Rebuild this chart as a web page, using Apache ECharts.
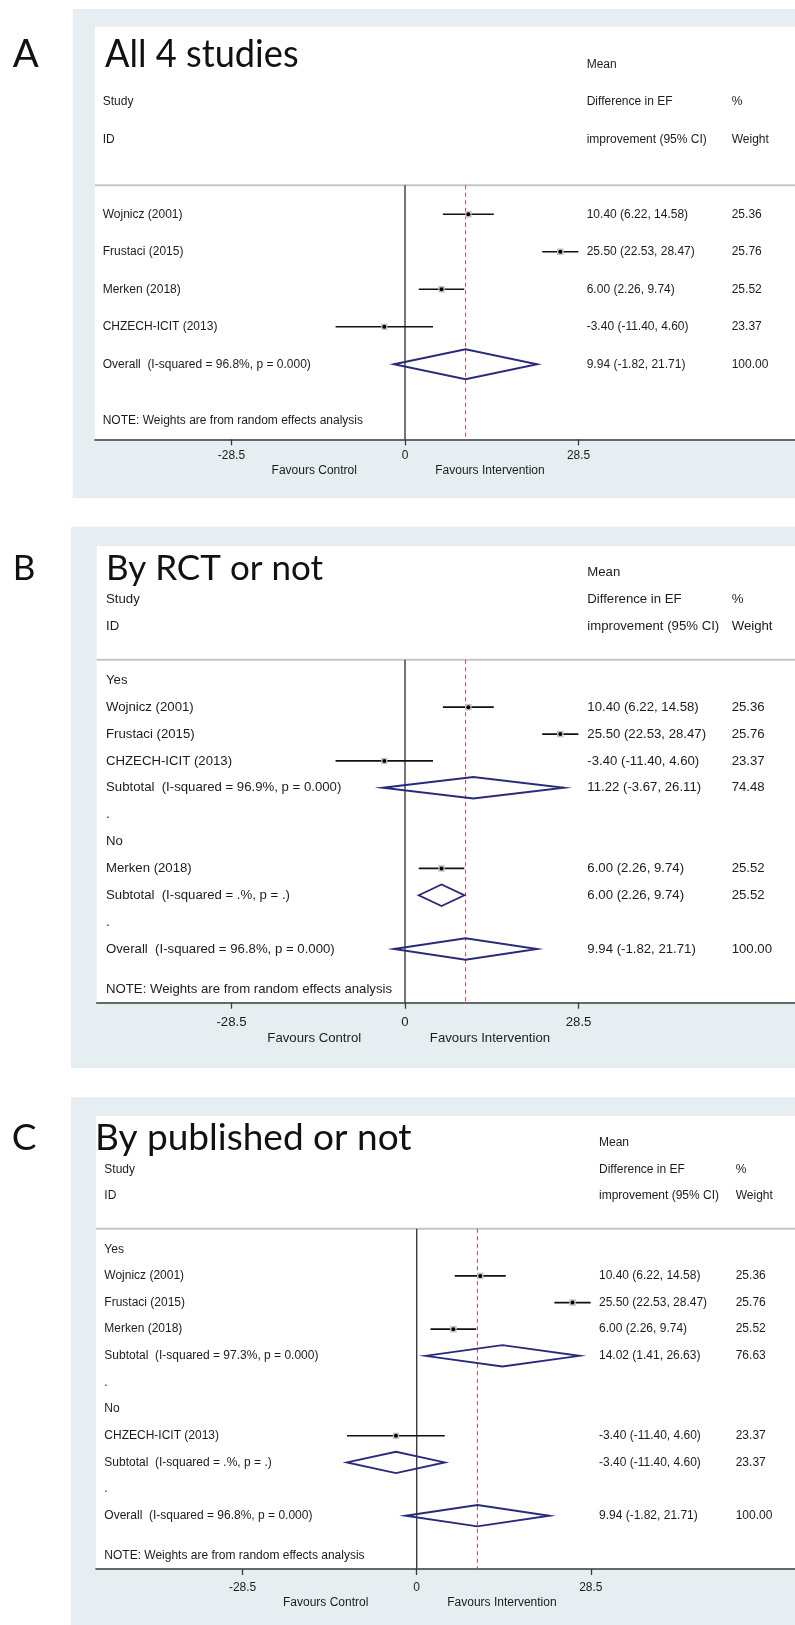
<!DOCTYPE html>
<html>
<head>
<meta charset="utf-8">
<script src="https://cdn.jsdelivr.net/npm/echarts@6/dist/echarts.min.js"></script>
<style>
html,body{margin:0;padding:0;background:#ffffff;}
#chart{width:795px;height:1625px;}
</style>
</head>
<body>
<div id="chart"></div>
<script>
// ---------------- DATA ----------------
const xTicks = [-28.5, 0, 28.5];
const xTickLabels = ['-28.5', '0', '28.5'];
const favoursAt = [-14.9, 13.95];
const favoursLabels = ['Favours Control', 'Favours Intervention'];

const headerLeft = ['Study', 'ID'];
const headerMid = ['Mean', 'Difference in EF', 'improvement (95% CI)'];
const headerRight = ['%', 'Weight'];
const noteText = 'NOTE: Weights are from random effects analysis';

const studyNames = ['Wojnicz (2001)', 'Frustaci (2015)', 'Merken (2018)', 'CHZECH-ICIT (2013)'];
const studyES = [10.40, 25.50, 6.00, -3.40];
const studyLo = [6.22, 22.53, 2.26, -11.40];
const studyHi = [14.58, 28.47, 9.74, 4.60];
const studyWt = [25.36, 25.76, 25.52, 23.37];

const overallES = 9.94, overallLo = -1.82, overallHi = 21.71, overallWt = 100.00;
const overallI2 = '96.8%', overallP = '0.000';

const groupNames = ['Yes', 'No'];

const rctGroups = [[0, 1, 3], [2]];
const rctSubES = [11.22, 6.00];
const rctSubLo = [-3.67, 2.26];
const rctSubHi = [26.11, 9.74];
const rctSubWt = [74.48, 25.52];
const rctSubI2 = ['96.9%', '.%'];
const rctSubP = ['0.000', '.'];

const pubGroups = [[0, 1, 2], [3]];
const pubSubES = [14.02, -3.40];
const pubSubLo = [1.41, -11.40];
const pubSubHi = [26.63, 4.60];
const pubSubWt = [76.63, 23.37];
const pubSubI2 = ['97.3%', '.%'];
const pubSubP = ['0.000', '.'];

const panelLetters = ['A', 'B', 'C'];
const panelTitles = ['All 4 studies', 'By RCT or not', 'By published or not'];

// ---------------- ROW BUILDERS ----------------
function studyRow(i) {
  return { kind: 'study', label: studyNames[i], es: studyES[i], lo: studyLo[i], hi: studyHi[i], wt: studyWt[i] };
}
function overallRow() {
  return { kind: 'diamond', label: 'Overall  (I-squared = ' + overallI2 + ', p = ' + overallP + ')',
    es: overallES, lo: overallLo, hi: overallHi, wt: overallWt };
}
function buildAll() {
  const rows = [0, 1, 2, 3].map(studyRow);
  rows.push(overallRow());
  rows.forEach((r, i) => r.row = i);
  return rows;
}
function buildGrouped(groups, es, lo, hi, wt, i2, p) {
  const rows = [];
  groups.forEach((g, gi) => {
    rows.push({ kind: 'text', label: groupNames[gi] });
    g.forEach(i => rows.push(studyRow(i)));
    rows.push({ kind: 'diamond', label: 'Subtotal  (I-squared = ' + i2[gi] + ', p = ' + p[gi] + ')',
      es: es[gi], lo: lo[gi], hi: hi[gi], wt: wt[gi] });
    rows.push({ kind: 'text', label: '.' });
  });
  rows.push(overallRow());
  rows.forEach((r, i) => r.row = i);
  return rows;
}

// ---------------- LAYOUT ----------------
const W = 795;
const panels = [
  { rows: buildAll(), bg: [72.7, 9, 498], left: 95, top: 26.7, axisY: 439.3, zeroX: 405, ppu: 6.09,
    yMax: 6, noteRow: 5.5, font: 12, titleSize: 38.5, titleScale: 0.94, letterX: 12.7, titleX: 105, titleY: 54.5,
    labelX: 102.7, esX: 586.7, wtX: 731.7, tickMargin: 10.5, favPad: 14.5 },
  { rows: buildGrouped(rctGroups, rctSubES, rctSubLo, rctSubHi, rctSubWt, rctSubI2, rctSubP),
    bg: [71, 526.7, 1068.3], left: 96.7, top: 546, axisY: 1002.7, zeroX: 405, ppu: 6.09,
    yMax: 12, noteRow: 11.5, font: 13.2, titleSize: 35, titleScale: 1, letterX: 12.7, titleX: 106, titleY: 569,
    labelX: 106, esX: 587.3, wtX: 731.7, tickMargin: 13, favPad: 16 },
  { rows: buildGrouped(pubGroups, pubSubES, pubSubLo, pubSubHi, pubSubWt, pubSubI2, pubSubP),
    bg: [71, 1097.3, 1625], left: 96, top: 1116, axisY: 1569, zeroX: 416.7, ppu: 6.11,
    yMax: 12, noteRow: 11.5, font: 12, titleSize: 37, titleScale: 1, letterX: 11.7, titleX: 95, titleY: 1138,
    labelX: 104.3, esX: 599, wtX: 735.7, tickMargin: 12.3, favPad: 15 }
];
const SEP_ROW = -0.77;
const Y_MIN = -5;
const TEXT_COLOR = '#1c1c1c';
const FONT_FAMILY = '"Liberation Sans", Arial, sans-serif';
const TITLE_FAMILY = 'Lato, "Open Sans", sans-serif';
const BOX_SCALE = 1.3;

panels.forEach(p => {
  p.xMin = (p.left - p.zeroX) / p.ppu;
  p.xMax = (W - p.zeroX) / p.ppu;
});

// ---------------- OPTION ----------------
const grids = [], xAxes = [], yAxes = [], series = [], graphics = [];

function fmt(v) { return v.toFixed(2); }

panels.forEach((p, pi) => {
  graphics.push({ type: 'rect', z: -2, shape: { x: p.bg[0], y: p.bg[1], width: W - p.bg[0], height: p.bg[2] - p.bg[1] },
    style: { fill: '#e6eef1' } });
  graphics.push({ type: 'rect', z: -1, shape: { x: p.left, y: p.top, width: W - p.left, height: p.axisY - p.top },
    style: { fill: '#ffffff' } });
  graphics.push({ type: 'text', z: 5, x: p.letterX, y: p.titleY,
    style: { text: panelLetters[pi], fontSize: p.titleSize, fontFamily: TITLE_FAMILY, fill: '#111', verticalAlign: 'middle', align: 'left' } });
  graphics.push({ type: 'text', z: 5, x: p.titleX, y: p.titleY, scaleX: p.titleScale,
    style: { text: panelTitles[pi], fontSize: p.titleSize, fontFamily: TITLE_FAMILY, fill: '#111', verticalAlign: 'middle', align: 'left' } });

  grids.push({ left: p.left, top: p.top, width: W - p.left, height: p.axisY - p.top, show: false, containLabel: false });

  xAxes.push({
    type: 'value', gridIndex: pi, min: p.xMin, max: p.xMax,
    axisLine: { show: true, onZero: false, lineStyle: { color: '#3a3a3a', width: 1.6 } },
    axisTick: { show: true, customValues: xTicks, length: 6, lineStyle: { color: '#3a3a3a', width: 1.3 } },
    splitLine: { show: false },
    axisLabel: {
      customValues: xTicks.concat(favoursAt),
      margin: p.tickMargin,
      showMinLabel: true, showMaxLabel: true,
      formatter: function (v) {
        const i = xTicks.indexOf(v);
        if (i >= 0) return '{t|' + xTickLabels[i] + '}';
        const j = favoursAt.indexOf(v);
        return '{f|' + favoursLabels[j] + '}';
      },
      rich: {
        t: { fontSize: p.font, fontFamily: FONT_FAMILY, color: TEXT_COLOR },
        f: { fontSize: p.font, fontFamily: FONT_FAMILY, color: TEXT_COLOR, padding: [p.favPad, 0, 0, 0] }
      }
    }
  });
  yAxes.push({ type: 'value', gridIndex: pi, min: Y_MIN, max: p.yMax, inverse: true, show: false });

  const font = p.font + 'px ' + FONT_FAMILY;

  series.push({
    type: 'custom', xAxisIndex: pi, yAxisIndex: pi, silent: true, z: 1,
    data: [[0, 0]],
    renderItem: function (params, api) {
      const sepL = api.coord([p.xMin, SEP_ROW]);
      const sepR = api.coord([p.xMax, SEP_ROW]);
      const z0 = api.coord([0, SEP_ROW]);
      const z1 = api.coord([0, p.yMax]);
      const d0 = api.coord([overallES, SEP_ROW]);
      const d1 = api.coord([overallES, p.yMax]);
      const ch = [];
      ch.push({ type: 'line', shape: { x1: sepL[0], y1: sepL[1], x2: sepR[0], y2: sepR[1] }, style: { stroke: '#c6c6c6', lineWidth: 2 } });
      ch.push({ type: 'line', shape: { x1: z0[0], y1: z0[1], x2: z1[0], y2: z1[1] }, style: { stroke: '#3c3c3c', lineWidth: 1.4 } });
      ch.push({ type: 'line', shape: { x1: d0[0], y1: d0[1], x2: d1[0], y2: d1[1] }, style: { stroke: '#bb5560', lineWidth: 1.1, lineDash: [4, 3.5] } });
      const yOf = r => api.coord([0, r])[1];
      headerLeft.forEach((t, i) => ch.push({ type: 'text', style: { text: t, x: p.labelX, y: yOf(-3 + i), font, fill: TEXT_COLOR, verticalAlign: 'middle', align: 'left' } }));
      headerMid.forEach((t, i) => ch.push({ type: 'text', style: { text: t, x: p.esX, y: yOf(-4 + i), font, fill: TEXT_COLOR, verticalAlign: 'middle', align: 'left' } }));
      headerRight.forEach((t, i) => ch.push({ type: 'text', style: { text: t, x: p.wtX, y: yOf(-3 + i), font, fill: TEXT_COLOR, verticalAlign: 'middle', align: 'left' } }));
      ch.push({ type: 'text', style: { text: noteText, x: p.labelX, y: yOf(p.noteRow), font, fill: TEXT_COLOR, verticalAlign: 'middle', align: 'left' } });
      return { type: 'group', children: ch };
    }
  });

  series.push({
    type: 'custom', xAxisIndex: pi, yAxisIndex: pi, silent: true, z: 3,
    data: p.rows.map(r => [r.row, r.es == null ? 0 : r.es, r.lo == null ? 0 : r.lo, r.hi == null ? 0 : r.hi]),
    renderItem: function (params, api) {
      const r = p.rows[params.dataIndex];
      const row = api.value(0);
      const y = api.coord([0, row])[1];
      const ch = [];
      ch.push({ type: 'text', style: { text: r.label, x: p.labelX, y: y, font, fill: TEXT_COLOR, verticalAlign: 'middle', align: 'left' } });
      if (r.kind === 'study' || r.kind === 'diamond') {
        const es = api.value(1), lo = api.value(2), hi = api.value(3);
        const pe = api.coord([es, row]), pl = api.coord([lo, row]), ph = api.coord([hi, row]);
        ch.push({ type: 'text', style: { text: fmt(r.es) + ' (' + fmt(r.lo) + ', ' + fmt(r.hi) + ')', x: p.esX, y: y, font, fill: TEXT_COLOR, verticalAlign: 'middle', align: 'left' } });
        ch.push({ type: 'text', style: { text: fmt(r.wt), x: p.wtX, y: y, font, fill: TEXT_COLOR, verticalAlign: 'middle', align: 'left' } });
        if (r.kind === 'study') {
          const s = BOX_SCALE * Math.sqrt(r.wt);
          ch.push({ type: 'line', shape: { x1: pl[0], y1: y, x2: ph[0], y2: y }, style: { stroke: '#111', lineWidth: 1.7 } });
          ch.push({ type: 'rect', shape: { x: pe[0] - s / 2, y: y - s / 2, width: s, height: s }, style: { fill: '#c4c4c4' } });
          ch.push({ type: 'circle', shape: { cx: pe[0], cy: y, r: 2 }, style: { fill: '#000' } });
        } else {
          const h = api.size([0, 0.4])[1];
          ch.push({ type: 'polygon', shape: { points: [[pl[0], y], [pe[0], y - h], [ph[0], y], [pe[0], y + h]] },
            style: { fill: 'none', stroke: '#2a2a7c', lineWidth: 1.9 } });
        }
      }
      return { type: 'group', children: ch };
    }
  });
});

const chart = echarts.init(document.getElementById('chart'), null, { renderer: 'canvas', width: 795, height: 1625 });
chart.setOption({
  animation: false,
  backgroundColor: '#ffffff',
  graphic: { elements: graphics },
  grid: grids,
  xAxis: xAxes,
  yAxis: yAxes,
  series: series
});
</script>
</body>
</html>
